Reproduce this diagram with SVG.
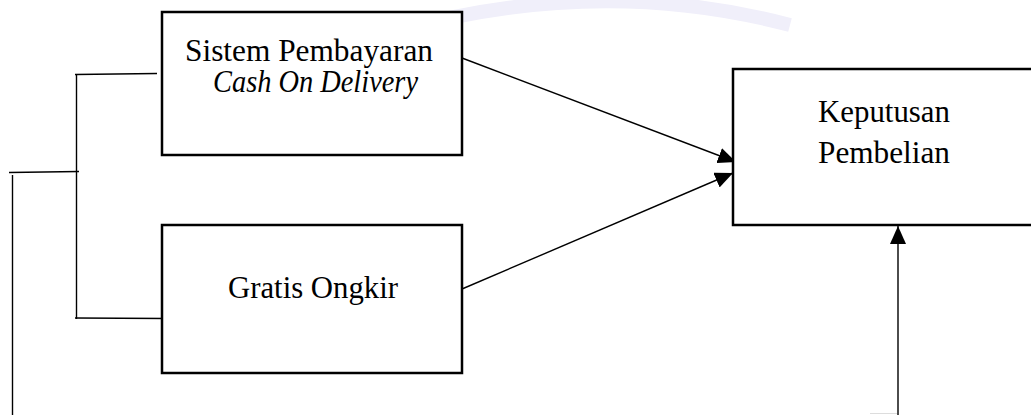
<svg xmlns="http://www.w3.org/2000/svg" width="1031" height="415" viewBox="0 0 1031 415">
<style>
.box{fill:#fff;stroke:#000;stroke-width:2.5}
.ln{fill:none;stroke:#000;stroke-width:1.4}
.t{font-family:"Liberation Serif","Times New Roman",serif;font-size:30.5px;fill:#000;text-anchor:middle}
.i{font-style:italic}
.wm{fill:none;stroke:#f0effa;stroke-width:14}
</style>
<defs>
<marker id="ah" viewBox="0 0 18 16" refX="18" refY="8" markerWidth="18" markerHeight="16" markerUnits="userSpaceOnUse" orient="auto">
<path d="M0,0 L18,8 L0,16 Z" fill="#000"/>
</marker>
</defs>
<rect width="1031" height="415" fill="#fff"/>
<path class="wm" d="M400,30 Q600,-25 790,25"/>
<g id="connectors">
<path class="ln" d="M462,58 L736,162" marker-end="url(#ah)"/>
<path class="ln" d="M462,289 L733,173" marker-end="url(#ah)"/>
<path class="ln" d="M898,415 L898,226" marker-end="url(#ah)"/>
<path class="ln" d="M75,74.5 L157,73.5"/>
<path class="ln" d="M76.5,74.5 L76.5,319"/>
<path class="ln" d="M75,318 L166,318.5"/>
<path class="ln" d="M9,172.5 L79,171.5"/>
<path class="ln" d="M12.5,175 L12.5,415"/>
<path d="M870,413.5 L897,413.5" stroke="#ddd" stroke-width="1"/>
</g>
<g id="node-cod">
<rect class="box" x="162" y="12" width="300" height="143"/>
<text class="t" x="309" y="61" textLength="248" lengthAdjust="spacingAndGlyphs">Sistem Pembayaran</text>
<text class="t i" x="315.5" y="92" textLength="205" lengthAdjust="spacingAndGlyphs">Cash On Delivery</text>
</g>
<g id="node-ongkir">
<rect class="box" x="162" y="225" width="300" height="148"/>
<text class="t" x="313" y="298" textLength="170" lengthAdjust="spacingAndGlyphs">Gratis Ongkir</text>
</g>
<g id="node-keputusan">
<rect class="box" x="733" y="69" width="310" height="156"/>
<text class="t" x="884" y="122" textLength="132" lengthAdjust="spacingAndGlyphs">Keputusan</text>
<text class="t" x="884" y="163" textLength="132" lengthAdjust="spacingAndGlyphs">Pembelian</text>
</g>
</svg>
